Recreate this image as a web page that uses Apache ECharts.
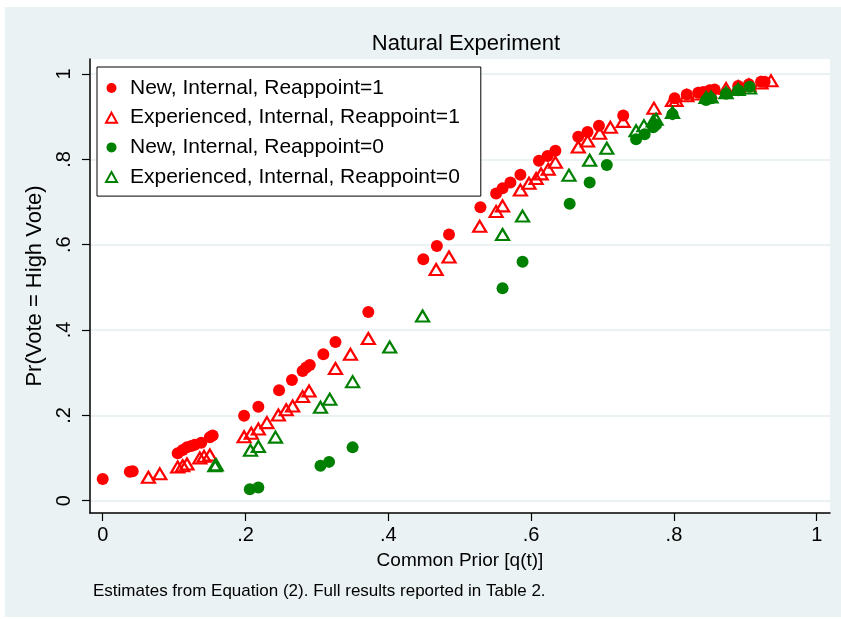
<!DOCTYPE html>
<html>
<head>
<meta charset="utf-8">
<script src="https://cdn.jsdelivr.net/npm/echarts@6/dist/echarts.min.js"></script>
<style>
  html, body { margin: 0; padding: 0; background: #fff; }
  #chart { width: 841px; height: 619px; }
</style>
</head>
<body>
<div id="chart"></div>
<script>
// tick positions
const xTicks = [0, 0.2, 0.4, 0.6, 0.8, 1];
const yTicks = [0, 0.2, 0.4, 0.6, 0.8, 1];

// [q(t), Pr(vote = high vote)]
const newReap1 = [
  [0.000, 0.051], [0.038, 0.068], [0.042, 0.069], [0.105, 0.111], [0.112, 0.119],
  [0.118, 0.125], [0.124, 0.128], [0.129, 0.131], [0.138, 0.136], [0.150, 0.149],
  [0.154, 0.153], [0.198, 0.199], [0.218, 0.220], [0.247, 0.259], [0.265, 0.283],
  [0.280, 0.304], [0.285, 0.312], [0.290, 0.318], [0.309, 0.343], [0.326, 0.372],
  [0.372, 0.442], [0.449, 0.566], [0.468, 0.597], [0.485, 0.624], [0.529, 0.688],
  [0.551, 0.720], [0.560, 0.732], [0.571, 0.746], [0.585, 0.764], [0.611, 0.797],
  [0.623, 0.808], [0.634, 0.820], [0.666, 0.853], [0.679, 0.864], [0.695, 0.879],
  [0.729, 0.903], [0.801, 0.943], [0.818, 0.952], [0.834, 0.956], [0.841, 0.958],
  [0.850, 0.962], [0.857, 0.964], [0.890, 0.972], [0.905, 0.976], [0.922, 0.982],
  [0.927, 0.982]
];
const expReap1 = [
  [0.064, 0.055], [0.080, 0.063], [0.105, 0.079], [0.112, 0.082], [0.118, 0.086],
  [0.136, 0.100], [0.142, 0.104], [0.150, 0.107], [0.198, 0.150], [0.208, 0.158],
  [0.218, 0.168], [0.230, 0.183], [0.246, 0.201], [0.257, 0.213], [0.266, 0.222],
  [0.280, 0.244], [0.289, 0.257], [0.326, 0.310], [0.347, 0.343], [0.372, 0.380],
  [0.467, 0.542], [0.485, 0.571], [0.528, 0.643], [0.551, 0.678], [0.560, 0.691],
  [0.585, 0.728], [0.597, 0.744], [0.607, 0.755], [0.614, 0.766], [0.624, 0.777],
  [0.634, 0.793], [0.666, 0.829], [0.679, 0.843], [0.696, 0.861], [0.711, 0.875],
  [0.729, 0.889], [0.772, 0.920], [0.798, 0.938], [0.803, 0.938], [0.818, 0.949],
  [0.834, 0.953], [0.850, 0.958], [0.873, 0.966], [0.890, 0.970], [0.905, 0.974],
  [0.922, 0.979], [0.936, 0.984]
];
const newReap0 = [
  [0.206, 0.027], [0.218, 0.031], [0.305, 0.082], [0.317, 0.091], [0.350, 0.125],
  [0.560, 0.498], [0.588, 0.560], [0.654, 0.696], [0.682, 0.746], [0.706, 0.787],
  [0.747, 0.847], [0.759, 0.859], [0.771, 0.875], [0.775, 0.881], [0.798, 0.906],
  [0.845, 0.939], [0.852, 0.943], [0.873, 0.954], [0.890, 0.962], [0.906, 0.970]
];
const expReap0 = [
  [0.157, 0.082], [0.159, 0.084], [0.207, 0.118], [0.218, 0.127], [0.242, 0.149],
  [0.305, 0.219], [0.318, 0.238], [0.350, 0.279], [0.402, 0.360], [0.448, 0.433],
  [0.560, 0.624], [0.588, 0.667], [0.653, 0.763], [0.682, 0.798], [0.706, 0.826],
  [0.747, 0.867], [0.758, 0.879], [0.771, 0.890], [0.775, 0.894], [0.798, 0.910],
  [0.845, 0.945], [0.852, 0.946], [0.873, 0.956], [0.890, 0.964], [0.906, 0.967]
];

const RED = "#ff0000";
const GREEN = "#008000";
const FONT = "'Liberation Sans', Arial, sans-serif";

const tickFmt = v => {
  if (v === 0) return "0";
  if (v === 1) return "1";
  return "." + Math.round(v * 10);
};

const chart = echarts.init(document.getElementById("chart"));

function dots(name, data, color) {
  return {
    name: name,
    type: "scatter",
    data: data,
    symbol: "circle",
    symbolSize: 12,
    itemStyle: { color: color, opacity: 1 }
  };
}

function tris(name, data, color) {
  return {
    name: name,
    type: "scatter",
    data: data,
    symbol: "triangle",
    symbolSize: [13, 11],
    itemStyle: { color: "rgba(255,255,255,0)", borderColor: color, borderWidth: 2.2, opacity: 1 }
  };
}

const option = {
  animation: false,
  backgroundColor: "#fff",
  graphic: [
    {
      type: "rect",
      z: -10,
      silent: true,
      shape: { x: 5, y: 7, width: 836, height: 610 },
      style: { fill: "#eaf2f3" }
    }
  ],
  title: [
    {
      text: "Natural Experiment",
      left: 461,
      top: 28,
      textAlign: "center",
      textStyle: { fontFamily: FONT, fontSize: 22, fontWeight: "normal", color: "#000" }
    },
    {
      text: "Estimates from Equation (2). Full results reported in Table 2.",
      left: 88,
      top: 578,
      textStyle: { fontFamily: FONT, fontSize: 17, fontWeight: "normal", color: "#000" }
    }
  ],
  legend: {
    left: 97,
    top: 67,
    orient: "vertical",
    backgroundColor: "#fff",
    borderColor: "#000",
    borderWidth: 1,
    padding: [10, 21, 8, 8],
    itemGap: 7.7,
    itemWidth: 11,
    itemHeight: 10,
    textStyle: { fontFamily: FONT, fontSize: 21, color: "#000", lineHeight: 22, padding: [0, 0, 0, 8] },
    data: [
      "New, Internal, Reappoint=1",
      "Experienced, Internal, Reappoint=1",
      "New, Internal, Reappoint=0",
      "Experienced, Internal, Reappoint=0"
    ]
  },
  grid: {
    left: 90,
    top: 59,
    right: 11,
    bottom: 106,
    show: true,
    backgroundColor: "#fff",
    borderWidth: 0
  },
  xAxis: {
    type: "value",
    min: -0.0178,
    max: 1.0186,
    name: "Common Prior [q(t)]",
    nameLocation: "middle",
    nameGap: 38,
    nameTextStyle: { fontFamily: FONT, fontSize: 19, color: "#000" },
    axisLine: { show: true, onZero: false, lineStyle: { color: "#000", width: 1.5 } },
    axisTick: { show: true, length: 8, customValues: xTicks, lineStyle: { color: "#000", width: 1.2 } },
    axisLabel: { customValues: xTicks, formatter: tickFmt, margin: 12, fontFamily: FONT, fontSize: 20, color: "#000" },
    splitLine: { show: false }
  },
  yAxis: {
    type: "value",
    min: -0.0288,
    max: 1.0352,
    name: "Pr(Vote = High Vote)",
    nameLocation: "middle",
    nameGap: 44,
    nameRotate: 90,
    nameTextStyle: { fontFamily: FONT, fontSize: 22, color: "#000" },
    axisLine: { show: true, onZero: false, lineStyle: { color: "#000", width: 1.5 } },
    axisTick: { show: true, length: 8, customValues: yTicks, lineStyle: { color: "#000", width: 1.2 } },
    axisLabel: { customValues: yTicks, formatter: tickFmt, rotate: 90, margin: 16, fontFamily: FONT, fontSize: 20, color: "#000" },
    splitLine: { show: true, lineStyle: { color: "#eaf2f3", width: 2 } }
  },
  series: [
    dots("New, Internal, Reappoint=1", newReap1, RED),
    tris("Experienced, Internal, Reappoint=1", expReap1, RED),
    dots("New, Internal, Reappoint=0", newReap0, GREEN),
    tris("Experienced, Internal, Reappoint=0", expReap0, GREEN)
  ]
};

chart.setOption(option);
</script>
</body>
</html>
